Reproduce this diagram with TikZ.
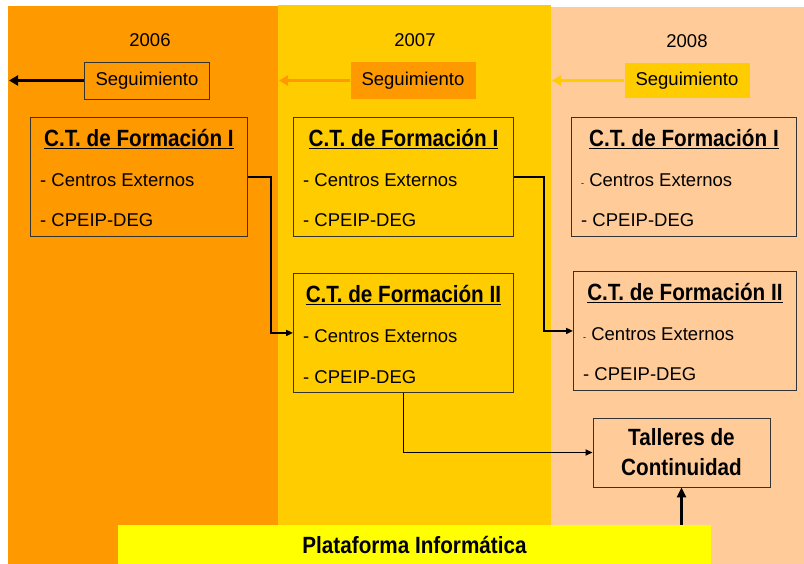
\documentclass[tikz,border=0pt]{standalone}
\usepackage{fontspec}
\setmainfont{Liberation Sans}
\newfontfamily\narrowfont{Liberation Sans}[FakeStretch=0.88]
\usetikzlibrary{arrows.meta,positioning}
\definecolor{naranja}{HTML}{FF9900}
\definecolor{amarillo}{HTML}{FFCC00}
\definecolor{durazno}{HTML}{FFCC99}
\definecolor{limon}{HTML}{FFFF00}
\newcommand\smdash{{\fontsize{9}{9}\selectfont -}}

\begin{document}
\begin{tikzpicture}[
	x=1pt, y=-1pt,
	every node/.style={font=\fontsize{18.5}{20}\selectfont},
	year/.style={inner sep=3pt},
	segbox/.style={
		rectangle,
		minimum width=125pt,
		minimum height=37pt,
		inner sep=0pt},
	ctbox/.style={
		rectangle,
		draw=black!80,
		line width=0.9pt,
		minimum height=119pt,
		anchor=north west},
	cttitle/.style={
		anchor=base,
		inner sep=0pt,
		font=\narrowfont\bfseries\fontsize{23.5}{26}\selectfont},
	ctitem/.style={anchor=base west, inner sep=0pt},
	taller/.style={
		rectangle,
		draw=black!80,
		line width=0.9pt,
		minimum width=177pt,
		minimum height=69pt,
		align=center,
		font=\narrowfont\bfseries\fontsize{23.5}{30}\selectfont},
	plat/.style={
		rectangle,
		fill=limon,
		minimum width=593pt,
		minimum height=39pt,
		font=\narrowfont\bfseries\fontsize{23.5}{26}\selectfont},
	segline/.style={line width=2.7pt, -{Triangle[length=9pt,width=10pt]}},
	link/.style={line width=1.9pt, -{Triangle[length=7pt,width=6pt]}}
	]

	\useasboundingbox (0,0) rectangle (804,564);
	\fill[naranja] (8,6) rectangle (278,564);
	\fill[amarillo] (278,5) rectangle (551,564);
	\fill[durazno] (551,7) rectangle (804,564);

	\node[segbox, draw=black!80, line width=0.9pt, fill=naranja] (seg06) at (147,80.5) {Seguimiento};
	\node[segbox, fill=naranja] (seg07) at (413,80.5) {Seguimiento};
	\node[segbox, fill=amarillo, minimum height=35pt] (seg08) at (687,80.5) {Seguimiento};

	\node[year, above=12pt of seg06, xshift=3pt] (y06) {2006};
	\node[year, above=12pt of seg07, xshift=2pt] (y07) {2007};
	\node[year, above=12pt of seg08] (y08) {2008};

	\coordinate (fin06) at (9,80.5);
	\coordinate (fin07) at (279,80.5);
	\coordinate (fin08) at (552,80.5);

	\draw[segline, black] (seg06.west) -- (fin06);
	\draw[segline, naranja] (seg07.west) -- (fin07);
	\draw[segline, amarillo] (seg08.west) -- (fin08);

	\foreach \nm/\x/\y/\w/\rom/\dsh in {
		cta06/30/117/217/I/{-},
		cta07/293/117/220/I/{-},
		cta08/571/117/225/I/{\smdash},
		ctb07/293/273/220/II/{-},
		ctb08/573/271/223/II/{\smdash}}{
		\node[ctbox, minimum width=\w pt] (\nm) at (\x,\y) {};
		\node[cttitle] (\nm-t) at ([shift={(0,30)}]\nm.north) {\underline{C.T. de Formación \rom}};
		\node[ctitem] (\nm-1) at ([shift={(10,70)}]\nm.north west) {\dsh\ Centros Externos};
		\node[ctitem] (\nm-2) at ([shift={(10,110)}]\nm.north west) {- CPEIP-DEG};
	}

	\node[taller] (taller) at (681.5,452.5) {Talleres de\\Continuidad};
	\node[plat] (plat) at (414.5,544.5) {Plataforma Informática};

	\draw[link] (cta06.east) -- ++(23,0) |- (ctb07.west);
	\draw[link] (cta07.east) -- ++(30,0) |- (ctb08.west);
	\draw[link] (ctb07.south) |- (taller.west);
	\draw[line width=3.5pt, -{Triangle[length=10pt,width=9pt]}] (plat.north -| taller.south) -- (taller.south);
\end{tikzpicture}
\end{document}
